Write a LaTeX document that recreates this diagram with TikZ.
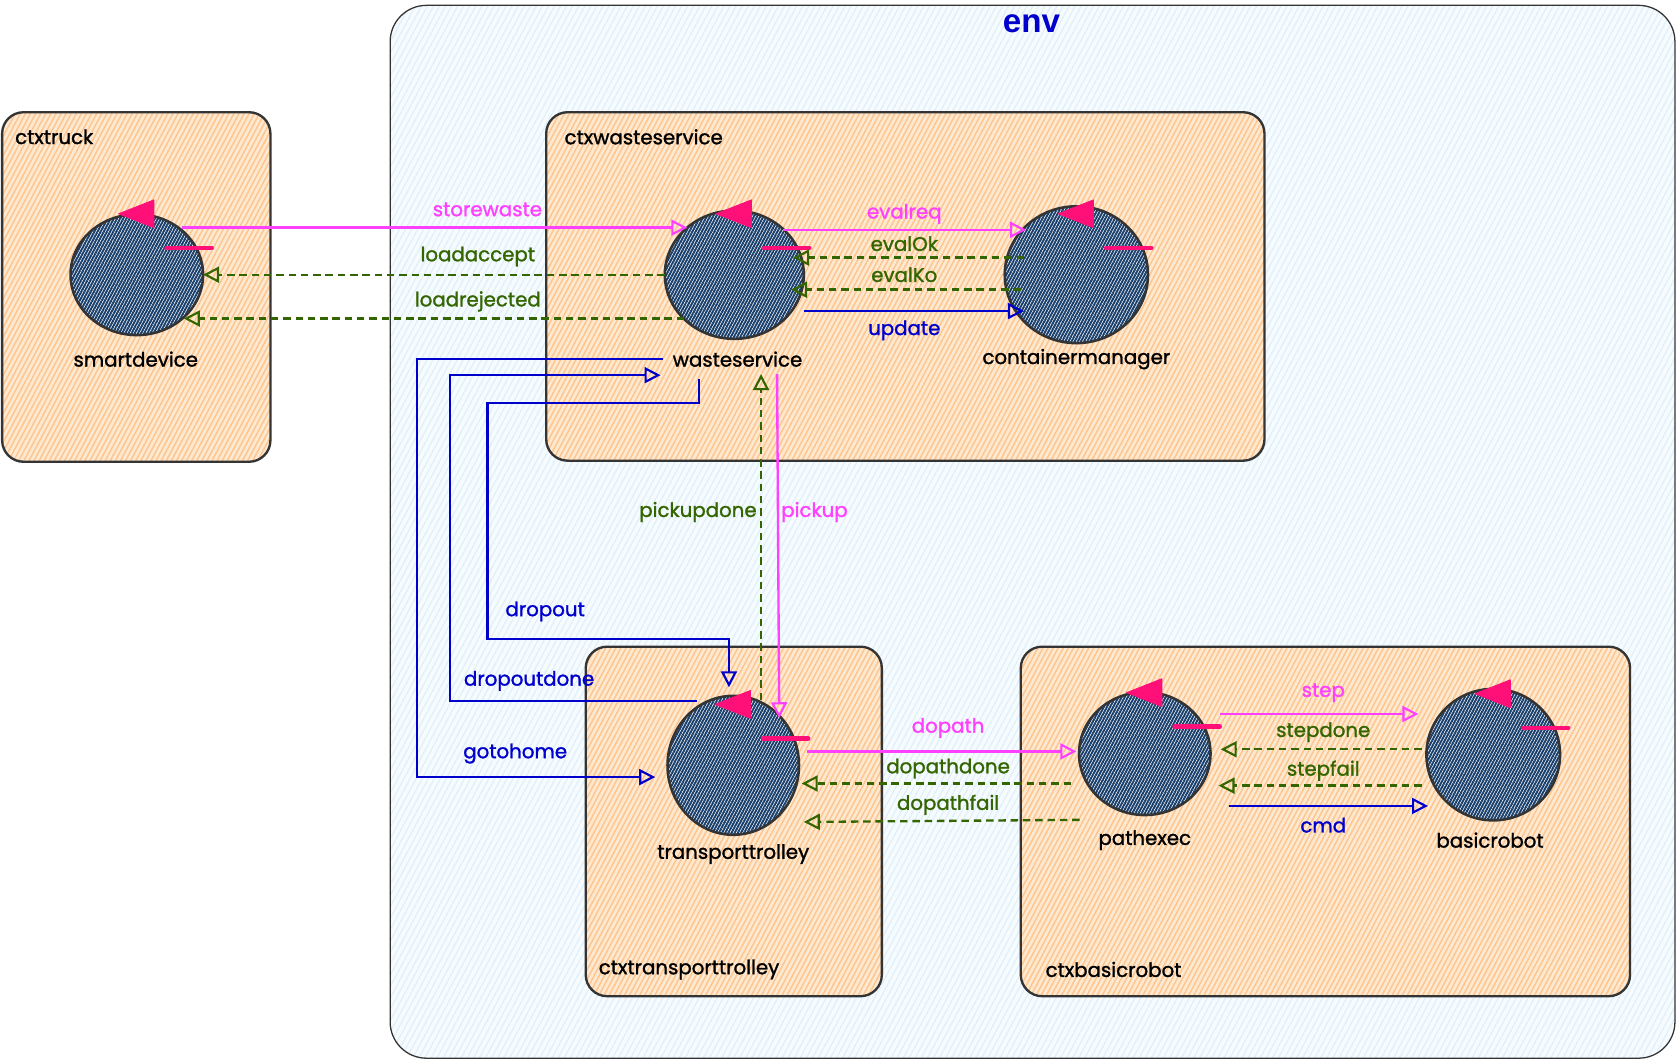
\documentclass[tikz,border=0pt]{standalone}
\usepackage{fontspec}
\setmainfont{Poppins}[FakeBold=1.3]
\newfontfamily\envfont{Liberation Sans}
\usetikzlibrary{shapes.geometric,arrows.meta,calc,patterns.meta}
\definecolor{mag}{RGB}{255,64,255}
\definecolor{grn}{RGB}{51,102,0}
\definecolor{blu}{RGB}{0,0,204}
\definecolor{pnk}{RGB}{255,16,120}
\definecolor{navy}{RGB}{24,62,108}
\definecolor{edgec}{RGB}{52,52,52}
\definecolor{orngfill}{RGB}{253,232,208}
\definecolor{ornghatch}{RGB}{255,196,140}
\definecolor{envfill}{RGB}{246,251,254}
\definecolor{envhatch}{RGB}{222,238,250}
\newcommand\actordeco[1]{%
  \filldraw[pnk, line width=0.8pt, line join=round] ($(#1)+(-17,-57)$) -- ($(#1)+(16,-70)$) -- ($(#1)+(16,-44)$) -- cycle;
  \draw[pnk, line width=4.5pt, line cap=round] ($(#1)+(28,-25)$) -- ($(#1)+(70,-25)$);}
\begin{document}
\begin{tikzpicture}[x=1pt,y=-1pt,
  ctxbox/.style={rectangle, draw=edgec, line width=2.2pt, rounded corners=20pt, inner sep=0pt, outer sep=0pt,
    preaction={fill=orngfill}, preaction={pattern={Lines[angle=62,distance=4.2pt,line width=1.3pt]}, pattern color=ornghatch}},
  actor/.style={ellipse, draw=edgec, line width=2.4pt, inner sep=0pt, outer sep=0pt,
    preaction={fill=white}, preaction={pattern={Lines[angle=62,distance=2.6pt,line width=1.9pt]}, pattern color=navy}},
  aname/.style={font=\fontsize{18.5}{22}\selectfont, text=black, inner sep=1pt},
  bname/.style={font=\fontsize{18.5}{22}\selectfont, text=black, inner sep=0pt, anchor=west},
  elab/.style={font=\fontsize{18.5}{22}\selectfont, inner sep=1pt},
  conn/.style={line width=2.2pt, -{Triangle[open,length=15pt,width=15pt,line width=2pt]}},
  reqc/.style={conn, draw=mag},
  dispc/.style={conn, draw=blu},
  replc/.style={conn, draw=grn, dash pattern=on 7pt off 4.5pt},
]
\useasboundingbox (0,0) rectangle (1568,992);
% environment
\node[rectangle, draw=edgec, line width=1.2pt, rounded corners=34pt, inner sep=0pt, outer sep=0pt,
  minimum width=1202pt, minimum height=985pt,
  preaction={fill=envfill}, preaction={pattern={Lines[angle=62,distance=5pt,line width=1pt]}, pattern color=envhatch}]
  (env) at (966,497.5) {};
\node[font=\envfont\bfseries\fontsize{31}{34}\selectfont, text=blu] (envlbl) at (965,22) {env};
% contexts
\node[ctxbox, minimum width=251pt, minimum height=327pt] (ctxtruck) at (127.5,268.5) {};
\node[ctxbox, minimum width=672pt, minimum height=326pt] (ctxws) at (847,268) {};
\node[ctxbox, minimum width=277pt, minimum height=327pt] (ctxtt) at (686.5,768.5) {};
\node[ctxbox, minimum width=570pt, minimum height=327pt] (ctxbr) at (1240,768.5) {};
\node[bname] (ctxtrucklbl) at (14,128) {ctxtruck};
\node[bname] (ctxwslbl) at (528,128) {ctxwasteservice};
\node[bname] (ctxttlbl) at (560,907) {ctxtransporttrolley};
\node[bname] (ctxbrlbl) at (978,907) {ctxbasicrobot};
% actors
\node[actor, minimum width=124pt, minimum height=113pt] (sd) at (128,257) {};
\node[actor, minimum width=130pt, minimum height=120pt] (ws) at (687,257) {};
\node[actor, minimum width=134pt, minimum height=128pt] (cm) at (1007,257) {};
\node[actor, minimum width=123pt, minimum height=130pt] (tt) at (686,716) {};
\node[actor, minimum width=123pt, minimum height=115pt] (pe) at (1071,705) {};
\node[actor, minimum width=125pt, minimum height=123pt] (br) at (1397,706) {};
\actordeco{sd}\actordeco{ws}\actordeco{cm}\actordeco{tt}\actordeco{pe}\actordeco{br}
\node[aname] (sdlbl) at (127,336) {smartdevice};
\node[aname] (wslbl) at (690,336) {wasteservice};
\node[aname] (cmlbl) at (1007,336) {containermanager};
\node[aname] (ttlbl) at (686,799) {transporttrolley};
\node[aname] (pelbl) at (1071,786) {pathexec};
\node[aname] (brlbl) at (1394,786) {basicrobot};
% connectors
\draw[reqc] ($(sd)+(42,-44)$) -- ($(ws)+(-44,-44)$);
\draw[replc] ($(ws)+(-65,0)$) -- ($(sd)+(62,0)$);
\draw[replc] ($(ws)+(-47,41)$) -- ($(sd)+(44,41)$);
\draw[reqc] ($(ws)+(46,-42)$) -- ($(cm)+(-47,-42)$);
\draw[replc] ($(cm)+(-49,-16)$) -- ($(ws)+(55,-16)$);
\draw[replc] ($(cm)+(-52,14)$) -- ($(ws)+(53,14)$);
\draw[dispc] ($(ws)+(65,34)$) -- ($(cm)+(-49,34)$);
\draw[dispc] ($(ws)+(-67,79)$) -- ++(-230,0) |- ($(tt)+(-73,11)$);
\draw[dispc] ($(tt)+(-34,-60)$) -- ++(-231,0) |- ($(ws)+(-69,94)$);
\draw[dispc] ($(ws)+(-33,98)$) -- ++(0,22) -- ++(-198,0) -- ++(0,221) -| ($(tt)+(-4,-73)$);
\draw[replc] ($(tt)+(26,-61)$) -- ($(ws)+(25,93)$);
\draw[reqc] ($(ws)+(40,93)$) -- ($(tt)+(43,-44)$);
\draw[reqc] ($(tt)+(69,-13)$) -- ($(pe)+(-64,-2)$);
\draw[replc] ($(pe)+(-69,28)$) -- ($(tt)+(64,17)$);
\draw[replc] ($(pe)+(-61,62)$) -- ($(tt)+(66,53)$);
\draw[reqc] ($(pe)+(70,-37)$) -- ($(br)+(-70,-38)$);
\draw[replc] ($(br)+(-67,-5)$) -- ($(pe)+(71,-4)$);
\draw[replc] ($(br)+(-67,29)$) -- ($(pe)+(69,30)$);
\draw[dispc] ($(pe)+(79,49)$) -- ($(br)+(-61,48)$);
% connector labels
\node[elab, text=mag] (l1) at (456,196) {storewaste};
\node[elab, text=grn] (l2) at (447,240) {loadaccept};
\node[elab, text=grn] (l3) at (447,282) {loadrejected};
\node[elab, text=mag] (l4) at (846,200) {evalreq};
\node[elab, text=grn] (l5) at (846,228) {evalOk};
\node[elab, text=grn] (l6) at (846,257) {evalKo};
\node[elab, text=blu] (l7) at (846,309) {update};
\node[elab, text=grn] (l8) at (653,479) {pickupdone};
\node[elab, text=mag] (l9) at (762,479) {pickup};
\node[elab, text=blu] (l10) at (510,572) {dropout};
\node[elab, text=blu] (l11) at (495,637) {dropoutdone};
\node[elab, text=blu] (l12) at (482,705) {gotohome};
\node[elab, text=mag] (l13) at (887,681) {dopath};
\node[elab, text=grn] (l14) at (887,719) {dopathdone};
\node[elab, text=grn] (l15) at (887,753) {dopathfail};
\node[elab, text=mag] (l16) at (1238,648) {step};
\node[elab, text=grn] (l17) at (1238,685) {stepdone};
\node[elab, text=grn] (l18) at (1238,721) {stepfail};
\node[elab, text=blu] (l19) at (1238,772) {cmd};
\end{tikzpicture}
\end{document}
